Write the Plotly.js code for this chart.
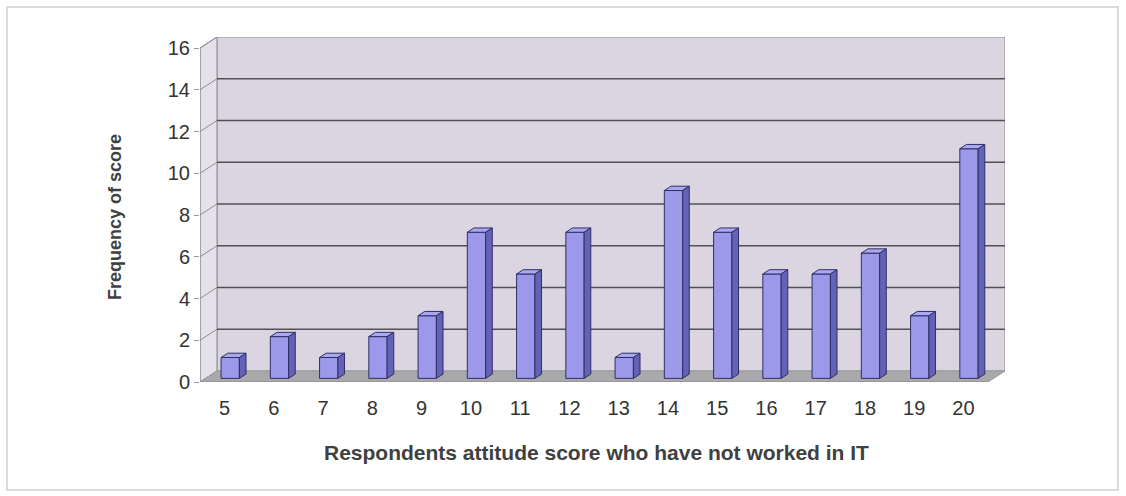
<!DOCTYPE html>
<html>
<head>
<meta charset="utf-8">
<script src="https://cdn.plot.ly/plotly-3.0.1.min.js"></script>
<style>
  html, body { margin: 0; padding: 0; background: #ffffff; }
  #chart { width: 1126px; height: 496px; }
</style>
</head>
<body>
<div id="chart"></div>
<script>
// Attitude scores (categories) and how often each score occurred
const categories = ['5', '6', '7', '8', '9', '10', '11', '12', '13', '14', '15', '16', '17', '18', '19', '20'];
const frequency = [1, 2, 1, 2, 3, 7, 5, 7, 1, 9, 7, 5, 5, 6, 3, 11];
const yTickValues = [0, 2, 4, 6, 8, 10, 12, 14, 16];

// Oblique "3-D" projection: depth of the floor expressed in axis units
const DX = 0.345;          // horizontal shift of the back wall (category units)
const DY = 0.527;          // vertical shift of the back wall (value units)
const Y_MAX = 16;
const N = categories.length;
const X0 = -0.5, X1 = N - 0.5;

// Columns sit in the middle of the floor depth
const FRONT = 0.33, BACK = 0.72;
const HALF_W = 0.186;

const idx = categories.map((_, i) => i);
const frontX = idx.map(i => i + FRONT * DX);
const frontBase = FRONT * DY;
const dDX = (BACK - FRONT) * DX, dDY = (BACK - FRONT) * DY;

// Top and right faces of each column, built as closed polygons
const topX = [], topY = [], sideX = [], sideY = [];
frequency.forEach((v, i) => {
  const xl = frontX[i] - HALF_W, xr = frontX[i] + HALF_W;
  const yt = frontBase + v, yb = frontBase;
  topX.push(xl, xr, xr + dDX, xl + dDX, xl, null);
  topY.push(yt, yt, yt + dDY, yt + dDY, yt, null);
  sideX.push(xr, xr, xr + dDX, xr + dDX, xr, null);
  sideY.push(yb, yt, yt + dDY, yb + dDY, yb, null);
});

const EDGE = '#2f2f66';

const traces = [
  {
    type: 'bar', x: frontX, y: frequency, base: frontBase, width: 2 * HALF_W,
    marker: { color: '#9c99ea', line: { color: EDGE, width: 1 } },
    hoverinfo: 'skip', showlegend: false
  },
  {
    type: 'scatter', mode: 'lines', x: topX, y: topY, fill: 'toself',
    fillcolor: '#aaa8f0', line: { color: EDGE, width: 1 },
    hoverinfo: 'skip', showlegend: false
  },
  {
    type: 'scatter', mode: 'lines', x: sideX, y: sideY, fill: 'toself',
    fillcolor: '#6462b6', line: { color: EDGE, width: 1 },
    hoverinfo: 'skip', showlegend: false
  }
];

const shapes = [];
const dataShape = (o) => Object.assign({ xref: 'x', yref: 'y', layer: 'below' }, o);

// Back wall
shapes.push(dataShape({
  type: 'rect', x0: X0 + DX, x1: X1 + DX, y0: DY, y1: Y_MAX + DY,
  fillcolor: '#dad5e1', line: { color: '#8e8c94', width: 1 }
}));
// Side wall
shapes.push(dataShape({
  type: 'path',
  path: `M ${X0} 0 L ${X0} ${Y_MAX} L ${X0 + DX} ${Y_MAX + DY} L ${X0 + DX} ${DY} Z`,
  fillcolor: '#e4e1ea', line: { color: '#8e8c94', width: 1 }
}));
// Gridlines on the back wall and the side wall
yTickValues.forEach(t => {
  if (t > 0 && t < Y_MAX) {
    shapes.push(dataShape({
      type: 'line', x0: X0 + DX, x1: X1 + DX, y0: t + DY, y1: t + DY,
      line: { color: '#505056', width: 1.3 }
    }));
  }
  shapes.push(dataShape({
    type: 'line', x0: X0, x1: X0 + DX, y0: t, y1: t + DY,
    line: { color: '#8e8c94', width: 1 }
  }));
});
// Floor
shapes.push(dataShape({
  type: 'path',
  path: `M ${X0} 0 L ${X1} 0 L ${X1 + DX} ${DY} L ${X0 + DX} ${DY} Z`,
  fillcolor: '#a9a8ab', line: { color: '#9a999c', width: 1 }
}));
// Front edges of the value axis and the category axis
shapes.push(dataShape({
  type: 'line', x0: X0, x1: X0, y0: 0, y1: Y_MAX, line: { color: '#8e8c94', width: 1 }
}));
shapes.push(dataShape({
  type: 'line', x0: X0, x1: X1, y0: 0, y1: 0, line: { color: '#8e8c94', width: 1 }
}));
// Category boundary tick marks below the floor
for (let k = 0; k <= N; k++) {
  shapes.push({
    type: 'line', xref: 'x', yref: 'y', layer: 'above',
    x0: X0 + k, x1: X0 + k, ysizemode: 'pixel', yanchor: 0, y0: 0, y1: -5,
    line: { color: '#9a999c', width: 1 }
  });
}
// Chart frame
shapes.push({
  type: 'rect', xref: 'paper', yref: 'paper',
  x0: (7 - 200) / 805, x1: (1118 - 200) / 805,
  y0: (382 - 490) / 345, y1: (382 - 7) / 345,
  line: { color: '#cfcfcf', width: 1.5 }, fillcolor: 'rgba(0,0,0,0)'
});

const FONT = 'Liberation Sans, Arial, sans-serif';

const layout = {
  width: 1126, height: 496,
  margin: { l: 200, r: 121, t: 37, b: 114 },
  paper_bgcolor: '#ffffff', plot_bgcolor: 'rgba(0,0,0,0)',
  showlegend: false,
  font: { family: FONT, color: '#333333' },
  xaxis: {
    range: [X0, X1 + DX], showgrid: false, zeroline: false, showline: false,
    tickmode: 'array', tickvals: idx, ticktext: categories,
    ticks: 'outside', ticklen: 8, tickcolor: 'rgba(0,0,0,0)',
    tickfont: { family: FONT, size: 20, color: '#333333' }, fixedrange: true
  },
  yaxis: {
    range: [0, Y_MAX + DY], showgrid: false, zeroline: false, showline: false,
    tickmode: 'array', tickvals: yTickValues,
    ticks: 'outside', ticklen: 5, tickcolor: '#9a999c',
    tickfont: { family: FONT, size: 20, color: '#333333' }, fixedrange: true
  },
  shapes: shapes,
  annotations: [
    {
      text: '<b>Frequency of score</b>', xref: 'paper', yref: 'paper',
      x: (115 - 200) / 805, y: (382 - 217) / 345, xanchor: 'center', yanchor: 'middle',
      textangle: -90, showarrow: false,
      font: { family: FONT, size: 18, color: '#404040' }
    },
    {
      text: '<b>Respondents attitude score who have not worked in IT</b>', xref: 'paper', yref: 'paper',
      x: (596 - 200) / 805, y: (382 - 452) / 345, xanchor: 'center', yanchor: 'middle', showarrow: false,
      font: { family: FONT, size: 21, color: '#404040' }
    }
  ]
};

Plotly.newPlot('chart', traces, layout, { displayModeBar: false, staticPlot: true });
</script>
</body>
</html>
